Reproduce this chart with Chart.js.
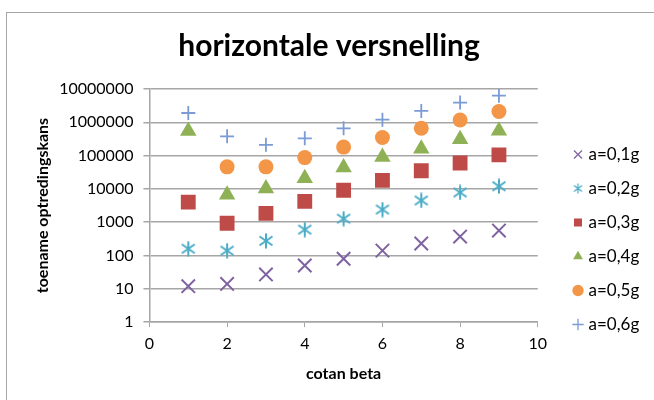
<!DOCTYPE html>
<html>
<head>
<meta charset="utf-8">
<script src="https://cdn.jsdelivr.net/npm/chart.js@4.4.1/dist/chart.umd.min.js"></script>
<style>
  html, body { margin: 0; padding: 0; background: #fff; }
  #wrap { position: relative; width: 654px; height: 400px; overflow: hidden; }
  #frame { position: absolute; left: 6px; top: 12px; width: 700px; height: 450px; border: 1.5px solid #a6a6a6; }
  canvas { position: absolute; left: 0; top: 0; }
</style>
</head>
<body>
<div id="wrap">
  <div id="frame"></div>
  <canvas id="chart" width="654" height="400"></canvas>
</div>
<script>
const cotan = [1, 2, 3, 4, 5, 6, 7, 8, 9]
const a01 = [12, 14, 27, 50, 80, 140, 230, 370, 560]
const a02 = [160, 140, 275, 600, 1280, 2400, 4500, 7800, 12000]
const a03 = [4000, 930, 1850, 4200, 9100, 18000, 35000, 60000, 105000]
const a04 = [550000, 6700, 10200, 21000, 44000, 91000, 160000, 310000, 560000]
const a05 = [null, 46000, 46000, 87000, 180000, 350000, 660000, 1170000, 2100000]
const a06 = [1900000, 380000, 210000, 330000, 660000, 1200000, 2200000, 3900000, 6300000]
const yTicks = [1, 10, 100, 1000, 10000, 100000, 1000000, 10000000]
const xTicks = [0, 2, 4, 6, 8, 10]

const ctx = document.getElementById("chart")
const font = "Lato"

// asterisk marker like excel's (vertical line + X)
const makeStar = (size, lw) => {
  const c = document.createElement("canvas")
  c.width = size
  c.height = size
  const g = c.getContext("2d")
  const m = size / 2
  g.strokeStyle = "#4bacc6"
  g.lineWidth = lw
  g.beginPath()
  g.moveTo(m, 0.5); g.lineTo(m, size - 0.5)
  g.moveTo(1.5, size * 0.22); g.lineTo(size - 1.5, size * 0.78)
  g.moveTo(size - 1.5, size * 0.22); g.lineTo(1.5, size * 0.78)
  g.stroke()
  return c
}
const star = makeStar(16, 2)
const starSmall = makeStar(11, 1.3)

const toPoints = (vals) => cotan.map((x, i) => ({ x: x, y: vals[i] })).filter((p) => p.y !== null)

const series = [
  { label: "a=0,1g", data: a01, color: "#7f63a1", style: "crossRot", r: 9.5, w: 2 },
  { label: "a=0,2g", data: a02, color: "#4bacc6", style: star, r: 8, w: 2 },
  { label: "a=0,3g", data: a03, color: "#be4b48", style: "rect", r: 10.5, w: 0 },
  { label: "a=0,4g", data: a04, color: "#8fb155", style: "triangle", r: 9.5, w: 0 },
  { label: "a=0,5g", data: a05, color: "#f39647", style: "circle", r: 7.5, w: 0 },
  { label: "a=0,6g", data: a06, color: "#7a9bd6", style: "cross", r: 7, w: 1.8 },
]

// put the legend and title where excel has them
const boxPos = {
  id: "boxPos",
  afterLayout: (chart) => {
    const lg = chart.legend
    if (lg) {
      lg.left = 559
      lg.right = lg.left + lg.width
      lg.top = 129
      lg.bottom = lg.top + lg.height
    }
    const tb = chart.titleBlock
    if (tb) {
      tb.left += 8
      tb.right += 8
    }
  }
}

new Chart(ctx, {
  type: "scatter",
  data: {
    datasets: series.map((s) => ({
      label: s.label,
      data: toPoints(s.data),
      pointStyle: s.style,
      pointRadius: s.r,
      pointHoverRadius: s.r,
      pointBorderWidth: s.w,
      pointBackgroundColor: s.color,
      pointBorderColor: s.color,
      backgroundColor: s.color,
      borderColor: s.color,
    }))
  },
  options: {
    responsive: false,
    animation: false,
    layout: { padding: { left: 14, right: 26, top: 10, bottom: 10 } },
    plugins: {
      title: {
        display: true,
        text: "horizontale versnelling",
        color: "#000",
        font: { family: font, size: 30, weight: "bold" },
        padding: { top: 18, bottom: 25 }
      },
      legend: {
        position: "right",
        align: "start",
        labels: {
          usePointStyle: true,
          boxWidth: 4,
          boxHeight: 8,
          padding: 17,
          color: "#000",
          font: { family: font, size: 17 },
          generateLabels: (chart) => {
            const items = Chart.defaults.plugins.legend.labels.generateLabels(chart)
            items.forEach((it) => {
              if (it.pointStyle === star) it.pointStyle = starSmall
              if (it.lineWidth > 0) it.lineWidth = 1.3
            })
            return items
          }
        }
      },
      tooltip: { enabled: false }
    },
    scales: {
      x: {
        type: "linear",
        min: 0,
        max: 10,
        afterBuildTicks: (axis) => { axis.ticks = xTicks.map((v) => ({ value: v })) },
        grid: { drawOnChartArea: false, tickLength: 5, color: "#a6a6a6" },
        border: { color: "#a6a6a6", width: 1.5 },
        ticks: { color: "#000", font: { family: font, size: 16 }, padding: 7 },
        title: { display: true, text: "cotan beta", color: "#000", font: { family: font, size: 16, weight: "bold" }, padding: { top: 3.5, bottom: 7 } }
      },
      y: {
        type: "logarithmic",
        min: 1,
        max: 10000000,
        afterBuildTicks: (axis) => { axis.ticks = yTicks.map((v) => ({ value: v })) },
        grid: { color: "#a6a6a6", lineWidth: 1.5, tickLength: 6 },
        border: { color: "#a6a6a6", width: 1.5 },
        ticks: { color: "#000", font: { family: font, size: 16 }, padding: 10, callback: (v) => String(v) },
        title: { display: true, text: "toename optredingskans", color: "#000", font: { family: font, size: 16, weight: "bold" }, padding: { top: 19, bottom: -3 } }
      }
    }
  },
  plugins: [boxPos]
})
</script>
</body>
</html>
